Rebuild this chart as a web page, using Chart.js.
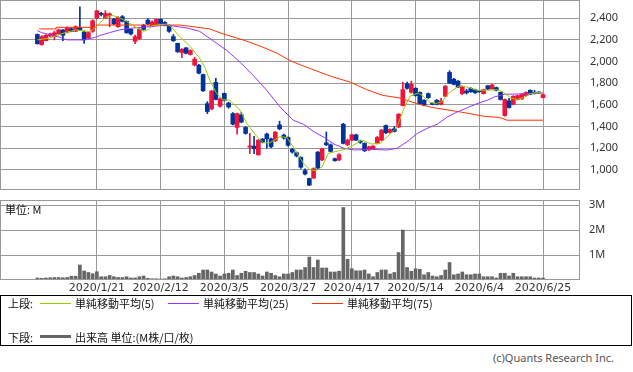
<!DOCTYPE html>
<html>
<head>
<meta charset="utf-8">
<script src="https://cdn.jsdelivr.net/npm/chart.js@4.4.0/dist/chart.umd.min.js"></script>
<style>
  body { margin: 0; background: #fff; width: 633px; height: 372px; overflow: hidden; position: relative;
         font-family: "Noto Sans CJK JP", "Noto Sans", sans-serif; color: #111; }
  canvas { position: absolute; left: 0; }
  #main { top: 0; }
  #vol { top: 190px; }
  .txt { position: absolute; white-space: nowrap; font-size: 11px; line-height: 14px; }
  .ln { position: absolute; width: 31px; height: 0; border-top: 1px solid; }
  #legend { position: absolute; left: 0; top: 295px; width: 630px; height: 49px; border: 1px solid #000; }
</style>
</head>
<body>
<canvas id="main" width="633" height="196"></canvas>
<canvas id="vol" width="633" height="106"></canvas>
<div class="txt" style="left:5px;top:202px;">単位: M</div>
<div id="legend"></div>
<div class="txt" style="left:8px;top:296px;">上段:</div>
<div class="ln" style="left:40px;top:303px;border-color:#99cc00;"></div>
<div class="txt" style="left:75px;top:296px;">単純移動平均(5)</div>
<div class="ln" style="left:168px;top:303px;border-color:#9933ff;"></div>
<div class="txt" style="left:203px;top:296px;">単純移動平均(25)</div>
<div class="ln" style="left:312px;top:303px;border-color:#ff3300;"></div>
<div class="txt" style="left:347px;top:296px;">単純移動平均(75)</div>
<div class="txt" style="left:8px;top:330px;">下段:</div>
<div class="ln" style="left:40px;top:335px;border-top:3px solid #666;"></div>
<div class="txt" style="left:75px;top:330px;">出来高 単位:(M株/口/枚)</div>
<div class="txt" style="right:19px;top:351px;color:#555;font-family:'Noto Sans';">(c)Quants Research Inc.</div>
<script>
// trading-day index 0..119
const opens  = [2250,2157,2193,2237,2230,2255,2292,2270,2303,2279,2316,2273,2218,2279,2402,2445,2400,2425,2392,2322,
                2414,2371,2297,2187,2212,2334,2383,2328,2340,2389,2361,2334,2230,2168,2083,2127,2065,1967,1967,1880,
                1612,1563,1808,1588,1706,1618,1520,1392,1508,1392,1210,1220,1140,1285,1331,1287,1269,1416,1322,1300,
                1190,1159,1116,994,921,926,1165,1092,1250,1232,1104,1092,1422,1232,1275,1324,1265,1245,1184,1196,
                1245,1275,1410,1343,1379,1397,1594,1796,1716,1753,1716,1643,1704,1615,1643,1606,1680,1900,1838,1820,
                1704,1728,1753,1740,1728,1704,1777,1747,1760,1716,1502,1637,1606,1650,1655,1686,1735,1715,1718,1667];
const closes = [2165,2230,2242,2255,2265,2292,2242,2310,2279,2322,2292,2200,2267,2377,2469,2435,2444,2440,2347,2408,
                2371,2267,2255,2230,2297,2297,2347,2365,2389,2352,2334,2279,2193,2090,2114,2077,2102,2022,1893,1730,
                1539,1728,1650,1655,1643,1581,1422,1520,1441,1337,1222,1196,1275,1257,1287,1214,1349,1379,1294,1227,
                1165,1129,1025,963,860,1012,1018,1196,1232,1171,1086,1141,1245,1275,1324,1275,1255,1177,1214,1220,
                1300,1367,1343,1374,1355,1514,1741,1753,1790,1686,1612,1597,1667,1605,1606,1637,1772,1802,1790,1765,
                1765,1712,1722,1712,1722,1741,1747,1784,1735,1650,1650,1576,1680,1686,1698,1716,1698,1705,1710,1695];
const highs  = [2255,2240,2250,2262,2280,2300,2295,2320,2310,2330,2506,2280,2275,2385,2470,2455,2470,2450,2400,2415,
                2425,2375,2300,2245,2305,2345,2395,2375,2395,2395,2370,2340,2250,2170,2120,2130,2110,2040,1975,1885,
                1630,1735,1845,1665,1710,1625,1530,1525,1530,1400,1337,1310,1280,1290,1340,1295,1355,1450,1330,1305,
                1200,1165,1120,1010,925,1020,1170,1200,1350,1240,1110,1150,1430,1285,1330,1330,1275,1250,1220,1225,
                1310,1375,1415,1380,1400,1520,1810,1810,1820,1760,1720,1650,1710,1620,1650,1660,1780,1915,1845,1825,
                1770,1745,1760,1745,1735,1745,1780,1790,1765,1720,1655,1660,1685,1690,1705,1720,1740,1735,1722,1700];
const lows   = [2160,2150,2190,2230,2200,2250,2193,2265,2275,2275,2290,2168,2210,2270,2395,2420,2395,2320,2340,2315,
                2365,2260,2245,2165,2200,2290,2340,2320,2335,2345,2330,2270,2185,2085,2037,2070,2060,1960,1885,1725,
                1520,1555,1645,1580,1635,1570,1415,1330,1435,1330,1153,1150,1135,1250,1200,1205,1260,1370,1285,1220,
                1155,1120,1015,955,855,920,1010,1085,1225,1165,1080,1085,1240,1225,1270,1270,1245,1170,1180,1190,
                1240,1270,1335,1340,1350,1390,1590,1745,1710,1680,1605,1590,1660,1600,1600,1600,1675,1795,1785,1760,
                1695,1700,1715,1705,1715,1700,1740,1745,1730,1645,1495,1570,1600,1645,1650,1680,1695,1700,1705,1665];
// volume, millions of shares
const volumes = [0.08,0.07,0.08,0.09,0.10,0.10,0.09,0.10,0.15,0.15,0.60,0.36,0.30,0.25,0.33,0.13,0.13,0.18,0.13,0.10,
                 0.10,0.13,0.08,0.08,0.13,0.16,0.07,0.05,0.05,0.04,0.05,0.13,0.16,0.13,0.08,0.10,0.13,0.18,0.27,0.40,
                 0.40,0.32,0.24,0.16,0.24,0.27,0.40,0.18,0.27,0.35,0.30,0.30,0.24,0.16,0.32,0.27,0.18,0.13,0.24,0.24,
                 0.30,0.40,0.40,0.50,0.92,0.50,0.80,0.48,0.48,0.32,0.32,0.35,2.90,0.83,0.45,0.37,0.37,0.40,0.24,0.13,
                 0.30,0.40,0.40,0.24,0.30,1.10,2.00,0.50,0.35,0.45,0.43,0.21,0.30,0.16,0.13,0.18,0.40,0.70,0.21,0.24,
                 0.32,0.21,0.21,0.24,0.24,0.13,0.13,0.13,0.08,0.27,0.27,0.16,0.27,0.13,0.13,0.13,0.13,0.08,0.08,0.08];
// moving averages: [day index, value]
const ma5 = [[0,2200],[3,2218],[6,2261],[9,2292],[12,2279],[13,2292],[14,2328],[16,2408],[17.5,2426],[19,2410],
             [21,2371],[22.5,2331],[25,2279],[26,2292],[27,2331],[29,2340],[30.5,2347],[31.2,2331],[33.5,2230],[36,2138],
             [38,2040],[39.4,1948],[40.6,1826],[42.2,1704],[43.7,1649],[45.3,1643],[47.7,1551],[49.3,1429],[51.7,1306],[53.2,1251],
             [54.7,1251],[57,1306],[58.7,1300],[60.2,1214],[62.6,1061],[64.2,1000],[65.7,994],[67,1031],[68.5,1153],[70,1168],
             [72.4,1190],[74,1220],[76.4,1276],[78.5,1239],[80.7,1245],[83,1331],[84.6,1392],[86.1,1551],[87.7,1680],[89.6,1710],
             [90.8,1680],[92.4,1624],[93.6,1612],[95.1,1627],[96.7,1704],[98.2,1750],[99.5,1780],[101.1,1765],[103.5,1735],[105.8,1735],
             [108.1,1741],[109.7,1716],[111.3,1667],[112.8,1649],[114.4,1667],[116,1704],[118.3,1716],[119,1716]];
const ma25 = [[0,2285],[1,2267],[5.3,2224],[6.9,2200],[10.8,2200],[13.1,2218],[14.7,2240],[17,2267],[19.4,2292],[22.5,2310],
              [26.5,2322],[29.6,2334],[32,2328],[35.2,2310],[38.2,2279],[41.3,2193],[44.6,2102],[47.7,1994],[50.8,1872],[54,1734],
              [57.1,1581],[60.2,1459],[62.7,1420],[65.1,1352],[67.5,1300],[69.8,1239],[72.2,1199],[74.6,1184],[78.5,1190],[82.3,1184],
              [84.6,1199],[87,1260],[89.4,1337],[91.7,1383],[94.1,1422],[96.5,1489],[98.8,1535],[101.2,1575],[103.5,1612],[105.9,1643],
              [107.5,1673],[109.9,1698],[112.2,1700],[114.6,1702],[117.8,1710],[119,1710]];
const ma75 = [[0.4,2301],[4.4,2301],[4.4,2316],[13.9,2316],[13.9,2337],[33.5,2337],[36.6,2322],[40.6,2301],[43.7,2255],[46.9,2218],
              [50,2178],[53.1,2132],[56.4,2077],[59.4,2010],[62,1968],[65.8,1912],[69.6,1857],[73.6,1811],[77.5,1741],[81.3,1688],
              [85.3,1664],[89.3,1612],[93.1,1575],[97,1551],[100.9,1526],[104.9,1496],[108.8,1484],[110.5,1459],[119,1459]];
const tickIdx = [14, 29, 44, 59, 74, 89, 104, 119];
const tickLabels = ['2020/1/21','2020/2/12','2020/3/5','2020/3/27','2020/4/17','2020/5/14','2020/6/4','2020/6/25'];
const priceTicks = [1000, 1200, 1400, 1600, 1800, 2000, 2200, 2400];
const volTicks = [1, 2, 3];

const UP = '#f0143c', DOWN = '#003399', GRID = '#999999';
const upOf = i => closes[i] >= opens[i];
const candleColors = opens.map((o, i) => upOf(i) ? UP : DOWN);

// plot frame
const frame = {
  id: 'frame',
  afterDraw(c) {
    const a = c.chartArea, ctx = c.ctx;
    ctx.save();
    ctx.strokeStyle = GRID; ctx.lineWidth = 1;
    ctx.strokeRect(a.left + 0.5, a.top + 0.5, a.right - a.left - 1, a.bottom - a.top - 1);
    ctx.restore();
  }
};

const xCommon = {
  type: 'linear', min: -8.8, max: 127.7, offset: false,
  afterBuildTicks: s => { s.ticks = tickIdx.map(v => ({ value: v })); },
  grid: { color: GRID, drawTicks: false, offset: false },
  border: { display: false }
};
const yFit = s => { s.width = 53; s.paddingTop = 0; s.paddingBottom = 0; };

new Chart(document.getElementById('main'), {
  type: 'bar',
  data: {
    datasets: [
      { type: 'line', data: ma5.map(p => ({ x: p[0], y: p[1] })), borderColor: '#99cc00', borderWidth: 1, pointRadius: 0, order: 0 },
      { type: 'line', data: ma25.map(p => ({ x: p[0], y: p[1] })), borderColor: '#9933ff', borderWidth: 1, pointRadius: 0, order: 0 },
      { type: 'line', data: ma75.map(p => ({ x: p[0], y: p[1] })), borderColor: '#ff3300', borderWidth: 1, pointRadius: 0, order: 0 },
      { data: opens.map((o, i) => ({ x: i, y: [lows[i], highs[i]] })), backgroundColor: candleColors,
        barThickness: 1, grouped: false, order: 2 },
      { data: opens.map((o, i) => ({ x: i, y: [o, closes[i]] })), backgroundColor: candleColors,
        barThickness: 4, minBarLength: 1, grouped: false, order: 1 }
    ]
  },
  options: {
    responsive: false, animation: false,
    layout: { padding: { left: 0, top: 0, right: 0, bottom: 6 } },
    plugins: { legend: { display: false }, tooltip: { enabled: false } },
    scales: {
      x: { ...xCommon, ticks: { display: false },
           afterFit: s => { s.height = 0; s.paddingLeft = 0; s.paddingRight = 0; } },
      y: {
        position: 'right', min: 815, max: 2568,
        afterBuildTicks: s => { s.ticks = priceTicks.map(v => ({ value: v })); },
        afterFit: yFit,
        grid: { color: GRID, drawTicks: false }, border: { display: false },
        ticks: { padding: 10, color: '#333', font: { family: 'Noto Sans', size: 11 },
                 callback: v => v.toLocaleString('en-US') }
      }
    }
  },
  plugins: [frame]
});

new Chart(document.getElementById('vol'), {
  type: 'bar',
  data: {
    datasets: [{ data: volumes.map((v, i) => ({ x: i, y: v })), backgroundColor: '#666666', barThickness: 3 }]
  },
  options: {
    responsive: false, animation: false,
    layout: { padding: { left: 0, top: 10, right: 0, bottom: 0 } },
    plugins: { legend: { display: false }, tooltip: { enabled: false } },
    scales: {
      x: { ...xCommon, afterFit: s => { s.height = 16; s.paddingLeft = 0; s.paddingRight = 0; },
           ticks: { padding: 2, autoSkip: false, maxRotation: 0, color: '#333',
                    font: { family: 'DejaVu Sans', size: 11 },
                    callback: v => tickLabels[tickIdx.indexOf(v)] } },
      y: {
        position: 'right', min: 0, max: 3.2,
        afterBuildTicks: s => { s.ticks = volTicks.map(v => ({ value: v })); },
        afterFit: yFit,
        grid: { color: GRID, drawTicks: false }, border: { display: false },
        ticks: { padding: 9, color: '#333', font: { family: 'Noto Sans', size: 11 }, callback: v => v + 'M' }
      }
    }
  },
  plugins: [frame]
});
</script>
</body>
</html>
